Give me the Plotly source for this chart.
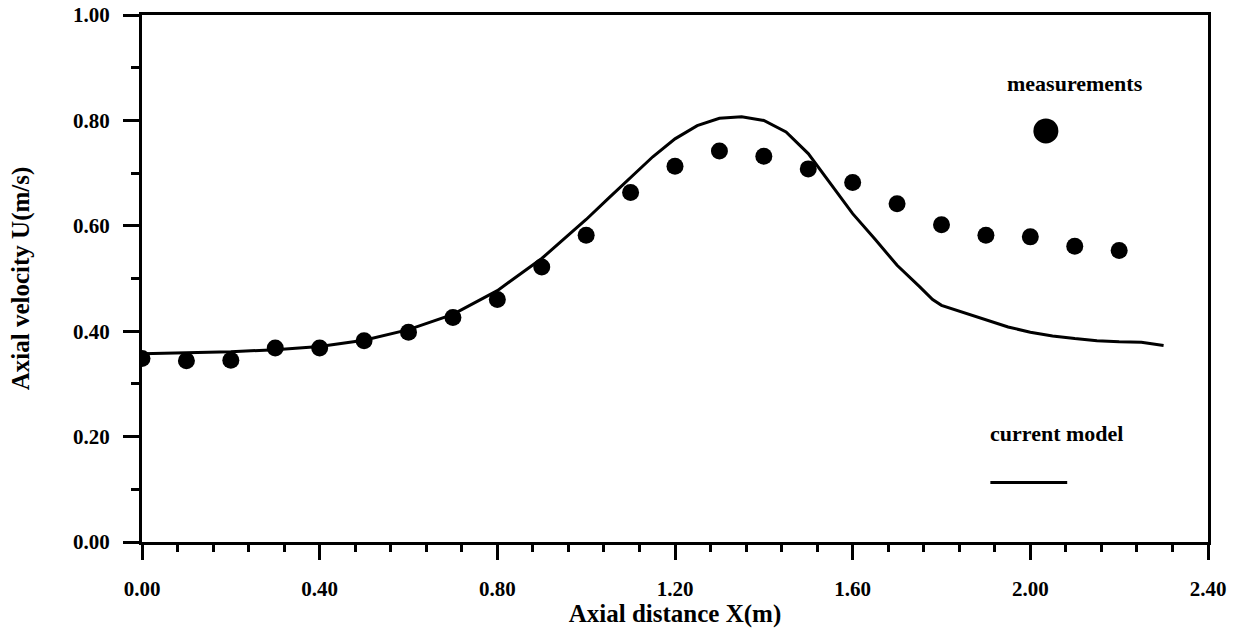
import plotly.graph_objects as go

# Measured axial velocity along the axis
meas_x = [0.0, 0.1, 0.2, 0.3, 0.4, 0.5, 0.6, 0.7, 0.8, 0.9, 1.0, 1.1,
          1.2, 1.3, 1.4, 1.5, 1.6, 1.7, 1.8, 1.9, 2.0, 2.1, 2.2]
meas_u = [0.348, 0.344, 0.345, 0.368, 0.368, 0.382, 0.398, 0.426, 0.460,
          0.522, 0.582, 0.663, 0.713, 0.742, 0.732, 0.708, 0.682, 0.642,
          0.602, 0.582, 0.579, 0.561, 0.553]

# Model prediction
model_x = [0.0, 0.1, 0.2, 0.3, 0.4, 0.5, 0.6, 0.7, 0.8, 0.9, 1.0, 1.05,
           1.1, 1.15, 1.2, 1.25, 1.3, 1.35, 1.4, 1.45, 1.5, 1.55, 1.6,
           1.65, 1.7, 1.75, 1.78, 1.8, 1.85, 1.9, 1.95, 2.0, 2.05, 2.1,
           2.15, 2.2, 2.25, 2.3]
model_u = [0.357, 0.359, 0.361, 0.365, 0.371, 0.383, 0.403, 0.432, 0.477,
           0.538, 0.612, 0.652, 0.692, 0.731, 0.765, 0.790, 0.804, 0.807,
           0.800, 0.778, 0.737, 0.680, 0.623, 0.575, 0.525, 0.485, 0.460,
           0.449, 0.435, 0.421, 0.408, 0.398, 0.391, 0.386, 0.382, 0.380,
           0.379, 0.373]

# Key entries placed inside the plot
key_dot_x, key_dot_u = [2.035], [0.78]
key_line_x, key_line_u = [1.91, 2.083], [0.113]

FONT = "Liberation Serif"

fig = go.Figure()
fig.add_trace(go.Scatter(x=model_x, y=model_u, mode="lines",
                         line=dict(color="black", width=3), showlegend=False))
fig.add_trace(go.Scatter(x=meas_x, y=meas_u, mode="markers",
                         marker=dict(color="black", size=17), showlegend=False))
fig.add_trace(go.Scatter(x=key_dot_x, y=key_dot_u, mode="markers",
                         marker=dict(color="black", size=25), showlegend=False))
fig.add_trace(go.Scatter(x=key_line_x, y=key_line_u * 2, mode="lines",
                         line=dict(color="black", width=3), showlegend=False))

fig.add_annotation(x=2.10, y=0.87, text="measurements", showarrow=False,
                   font=dict(family=FONT, size=22, color="black", weight="bold"))
fig.add_annotation(x=2.06, y=0.206, text="current model", showarrow=False,
                   font=dict(family=FONT, size=22, color="black", weight="bold"))

axis_common = dict(
    showline=True, linecolor="black", linewidth=3, mirror=True,
    showgrid=False, zeroline=False, ticks="outside", tickcolor="black",
    tickwidth=3, tickformat=".2f", automargin=False,
    tickfont=dict(family=FONT, size=21, color="black", weight="bold"),
)

fig.update_xaxes(
    range=[0, 2.4], dtick=0.4, tick0=0, ticklen=15, ticklabelstandoff=11,
    minor=dict(ticks="outside", ticklen=7, dtick=0.08, tick0=0,
               tickcolor="black", tickwidth=3),
    title=dict(text="Axial distance X(m)", standoff=6,
               font=dict(family=FONT, size=25, color="black", weight="bold")),
    **axis_common,
)
fig.update_yaxes(
    range=[0, 1.0], dtick=0.2, tick0=0, ticklen=16, ticklabelstandoff=9,
    minor=dict(ticks="outside", ticklen=8, dtick=0.1, tick0=0,
               tickcolor="black", tickwidth=3),
    title=dict(text="Axial velocity U(m/s)", standoff=37,
               font=dict(family=FONT, size=25, color="black", weight="bold")),
    **axis_common,
)

fig.update_layout(
    width=1237, height=628,
    margin=dict(l=142, r=29, t=15, b=86),
    plot_bgcolor="white", paper_bgcolor="white",
)

fig.write_html("out.html")
